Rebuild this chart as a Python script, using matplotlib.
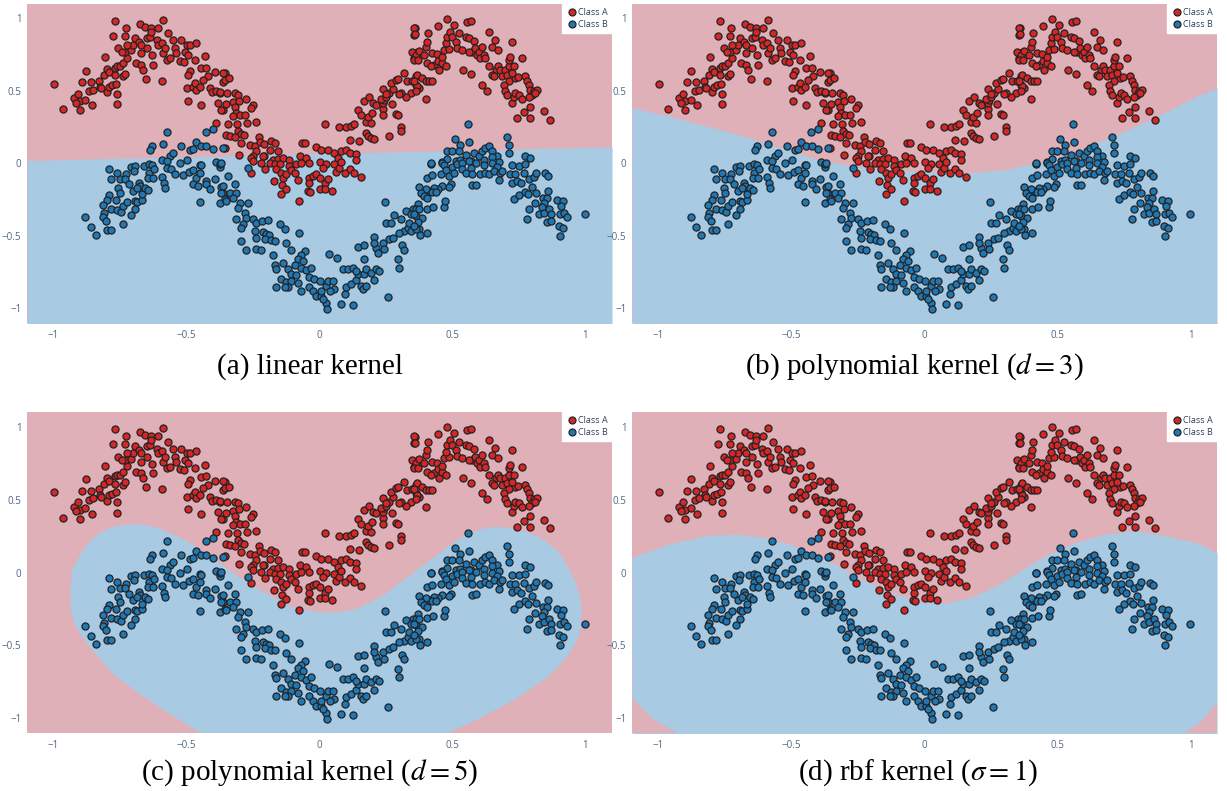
import numpy as np
import matplotlib.pyplot as plt
from matplotlib.lines import Line2D

plt.rcParams["mathtext.fontset"] = "stix"

# ── sample points (same data set in every panel) ─────────────────────────────
class_a = np.array([
    (-1.00, 0.55), (-0.965, 0.375), (-0.90, 0.37), (-0.856, 0.40), (-0.925, 0.45),
    (-0.91, 0.48), (-0.90, 0.43), (-0.88, 0.44), (-0.915, 0.42), (-0.894, 0.56),
    (-0.878, 0.64), (-0.86, 0.56), (-0.865, 0.50), (-0.85, 0.51), (-0.83, 0.57),
    (-0.825, 0.53), (-0.81, 0.61), (-0.82, 0.52), (-0.80, 0.49), (-0.79, 0.53),
    (-0.78, 0.54), (-0.80, 0.65), (-0.79, 0.63), (-0.77, 0.66), (-0.76, 0.67),
    (-0.75, 0.67), (-0.74, 0.69), (-0.77, 0.61), (-0.765, 0.55), (-0.76, 0.41),
    (-0.76, 0.48), (-0.74, 0.60), (-0.73, 0.62), (-0.725, 0.73), (-0.73, 0.77),
    (-0.756, 0.795), (-0.744, 0.77), (-0.71, 0.78), (-0.70, 0.82), (-0.694, 0.868),
    (-0.68, 0.84), (-0.67, 0.82), (-0.69, 0.69), (-0.67, 0.68), (-0.67, 0.76),
    (-0.665, 0.646), (-0.654, 0.584), (-0.625, 0.68), (-0.63, 0.745), (-0.65, 0.795),
    (-0.65, 0.864), (-0.637, 0.875), (-0.61, 0.85), (-0.606, 0.82), (-0.594, 0.83),
    (-0.588, 0.76), (-0.594, 0.57), (-0.575, 0.715), (-0.58, 0.795), (-0.563, 0.726),
    (-0.55, 0.85), (-0.544, 0.795), (-0.538, 0.76), (-0.525, 0.708), (-0.519, 0.85),
    (-0.51, 0.70), (-0.506, 0.77), (-0.50, 0.818), (-0.494, 0.75), (-0.488, 0.82),
    (-0.47, 0.715), (-0.463, 0.83), (-0.43, 0.74), (-0.444, 0.657), (-0.425, 0.66),
    (-0.42, 0.60), (-0.394, 0.63), (-0.356, 0.623), (-0.488, 0.635), (-0.494, 0.61),
    (-0.50, 0.52), (-0.475, 0.53), (-0.469, 0.554), (-0.463, 0.508), (-0.45, 0.53),
    (-0.438, 0.577), (-0.413, 0.52), (-0.406, 0.492), (-0.388, 0.50), (-0.375, 0.485),
    (-0.363, 0.565), (-0.494, 0.433), (-0.444, 0.40), (-0.38, 0.416), (-0.363, 0.37),
    (-0.388, 0.28), (-0.77, 0.983), (-0.675, 0.96), (-0.656, 0.944),
    (-0.635, 0.937), (-0.635, 0.91), (-0.606, 0.933), (-0.59, 0.99), (-0.569, 0.898),
    (-0.728, 0.937), (-0.778, 0.88), (-0.731, 0.88), (-0.725, 0.82), (-0.805, 0.733),
    # descending flank and trough
    (-0.363, 0.627), (-0.356, 0.577), (-0.34, 0.588), (-0.375, 0.492), (-0.348, 0.485),
    (-0.319, 0.485), (-0.306, 0.474), (-0.278, 0.446), (-0.325, 0.423), (-0.303, 0.432),
    (-0.35, 0.41), (-0.25, 0.40), (-0.256, 0.382), (-0.369, 0.37), (-0.319, 0.387),
    (-0.313, 0.348), (-0.325, 0.329), (-0.298, 0.336), (-0.281, 0.336), (-0.344, 0.272),
    (-0.31, 0.272), (-0.273, 0.279), (-0.238, 0.286), (-0.306, 0.226), (-0.294, 0.20),
    (-0.285, 0.194), (-0.353, 0.194), (-0.338, 0.192), (-0.319, 0.18), (-0.356, 0.11),
    (-0.294, 0.141), (-0.26, 0.125), (-0.244, 0.118), (-0.228, 0.18), (-0.225, 0.148),
    (-0.21, 0.134), (-0.181, 0.153), (-0.169, 0.141), (-0.156, 0.084), (-0.188, 0.095),
    (-0.238, 0.084), (-0.25, 0.05), (-0.303, 0.056), (-0.21, 0.05), (-0.065, 0.141),
    (-0.056, 0.141), (-0.013, 0.111), (0.006, 0.095), (0.031, 0.095),
    (-0.256, 0.038), (-0.213, 0.05), (-0.175, 0.027), (-0.156, 0.033), (-0.138, 0.038),
    (-0.113, 0.027), (-0.075, 0.05), (-0.05, 0.038), (-0.038, 0.004), (0.0, 0.01),
    (0.025, -0.003), (0.056, 0.072), (0.069, 0.038), (0.081, 0.084), (0.10, 0.095),
    (0.113, 0.072), (0.138, 0.066), (0.138, 0.027),
    (-0.25, 0.016), (-0.256, -0.069), (-0.219, 0.005), (-0.206, -0.037), (-0.188, 0.005),
    (-0.169, -0.007), (-0.15, -0.007), (-0.163, -0.041), (-0.144, -0.064), (-0.138, -0.099),
    (-0.125, -0.076), (-0.113, -0.018), (-0.106, -0.046), (-0.094, -0.064), (-0.081, -0.115),
    (-0.088, -0.007), (-0.069, 0.005), (-0.04, -0.099), (-0.038, -0.138), (-0.044, -0.19),
    (-0.035, -0.197), (-0.144, -0.213), (-0.173, -0.122), (-0.14, -0.151), (-0.125, -0.179),
    (-0.025, -0.087), (-0.013, -0.076), (0.0, -0.099), (0.0, -0.174), (0.013, -0.03),
    (0.019, -0.138), (0.031, -0.11), (0.048, -0.19), (0.056, -0.007), (0.063, -0.06),
    (0.075, -0.03), (0.081, 0.009), (0.094, -0.064), (0.115, -0.037), (0.131, -0.064),
    (0.156, -0.092), (-0.079, -0.259), (0.019, -0.174),
    # rising flank
    (0.019, 0.272), (0.075, 0.251), (0.10, 0.251), (0.119, 0.256), (0.131, 0.272),
    (0.144, 0.37), (0.156, 0.336), (0.169, 0.428), (0.175, 0.21), (0.15, 0.153),
    (0.181, 0.187), (0.194, 0.176), (0.206, 0.171), (0.116, 0.164), (0.175, 0.286),
    (0.194, 0.279), (0.181, 0.318), (0.198, 0.348), (0.185, 0.455), (0.203, 0.416),
    (0.213, 0.405), (0.238, 0.377), (0.238, 0.332), (0.24, 0.416), (0.244, 0.44),
    (0.231, 0.444), (0.25, 0.455), (0.263, 0.485), (0.275, 0.515), (0.238, 0.513),
    (0.25, 0.478), (0.273, 0.41), (0.288, 0.341), (0.296, 0.336), (0.306, 0.249),
    (0.306, 0.226), (0.263, 0.187), (0.269, 0.554), (0.288, 0.577), (0.294, 0.584),
    (0.319, 0.623), (0.328, 0.566), (0.348, 0.57), (0.363, 0.60), (0.363, 0.543),
    (0.344, 0.485), (0.325, 0.455), (0.306, 0.485), (0.298, 0.478), (0.356, 0.726),
    (0.36, 0.76), (0.356, 0.887), (0.36, 0.932), (0.369, 0.772), (0.373, 0.52),
    # right hump
    (0.355, 0.933), (0.359, 0.891), (0.349, 0.772), (0.362, 0.749), (0.355, 0.715),
    (0.374, 0.776), (0.372, 0.715), (0.368, 0.611), (0.368, 0.531), (0.355, 0.57),
    (0.362, 0.501), (0.387, 0.588), (0.399, 0.566), (0.412, 0.566), (0.424, 0.566),
    (0.405, 0.692), (0.399, 0.806), (0.405, 0.841), (0.409, 0.898), (0.393, 0.749),
    (0.422, 0.76), (0.443, 0.753), (0.43, 0.68), (0.418, 0.669), (0.447, 0.708),
    (0.449, 0.646), (0.459, 0.692), (0.474, 0.669), (0.462, 0.731), (0.468, 0.783),
    (0.487, 0.79), (0.474, 0.829), (0.48, 0.875), (0.489, 0.91), (0.447, 0.951),
    (0.48, 0.997), (0.505, 0.955), (0.499, 0.875), (0.512, 0.841), (0.518, 0.799),
    (0.524, 0.898), (0.534, 0.783), (0.549, 0.875), (0.555, 0.978), (0.568, 0.983),
    (0.562, 0.864), (0.58, 0.845), (0.574, 0.772), (0.584, 0.795), (0.593, 0.749),
    (0.599, 0.772), (0.605, 0.726), (0.612, 0.806), (0.618, 0.749), (0.624, 0.726),
    (0.637, 0.669), (0.639, 0.905), (0.649, 0.806), (0.659, 0.852), (0.662, 0.646),
    (0.649, 0.611), (0.655, 0.60), (0.672, 0.783), (0.672, 0.669), (0.68, 0.646),
    (0.687, 0.60), (0.699, 0.646), (0.705, 0.611), (0.712, 0.669), (0.714, 0.715),
    (0.718, 0.737), (0.724, 0.841), (0.73, 0.669), (0.734, 0.588), (0.747, 0.593),
    (0.722, 0.623), (0.712, 0.57), (0.693, 0.543), (0.612, 0.543), (0.63, 0.501),
    (0.699, 0.501), (0.705, 0.474), (0.724, 0.416), (0.73, 0.455), (0.737, 0.485),
    (0.749, 0.474), (0.762, 0.726), (0.774, 0.60), (0.78, 0.57), (0.787, 0.543),
    (0.793, 0.508), (0.805, 0.501), (0.818, 0.508), (0.799, 0.474), (0.812, 0.485),
    (0.787, 0.455), (0.762, 0.446), (0.768, 0.355), (0.793, 0.387), (0.843, 0.359),
    (0.743, 0.313), (0.793, 0.313), (0.868, 0.302), (0.399, 0.446), (0.539, 0.646),
    (0.568, 0.616), (0.562, 0.772),
])

class_b = np.array([
    # left hump
    (-0.575, 0.215), (-0.63, 0.118), (-0.638, 0.09), (-0.588, 0.134), (-0.519, 0.118),
    (-0.488, 0.095), (-0.475, 0.10), (-0.463, 0.146), (-0.444, 0.118), (-0.425, 0.118),
    (-0.40, 0.10), (-0.363, 0.107), (-0.428, 0.215), (-0.40, 0.237), (-0.594, 0.027),
    (-0.563, 0.05), (-0.55, 0.072), (-0.575, 0.015), (-0.5, 0.027), (-0.45, -0.008),
    (-0.79, -0.037), (-0.763, -0.064), (-0.785, -0.11), (-0.75, -0.105), (-0.728, -0.076),
    (-0.731, -0.105), (-0.71, -0.023), (-0.694, -0.018), (-0.698, -0.053), (-0.715, -0.144),
    (-0.756, -0.167), (-0.75, -0.202), (-0.79, -0.22), (-0.80, -0.25), (-0.815, -0.289),
    (-0.785, -0.312), (-0.765, -0.25), (-0.76, -0.321), (-0.748, -0.335), (-0.738, -0.294),
    (-0.725, -0.266), (-0.694, -0.259), (-0.688, -0.266), (-0.669, -0.252), (-0.669, -0.213),
    (-0.703, -0.19), (-0.68, -0.133), (-0.675, -0.156), (-0.656, -0.167), (-0.644, -0.184),
    (-0.688, -0.167), (-0.694, -0.317), (-0.71, -0.358), (-0.738, -0.42), (-0.81, -0.344),
    (-0.813, -0.367), (-0.803, -0.397), (-0.88, -0.367), (-0.86, -0.436), (-0.84, -0.49),
    (-0.798, -0.461), (-0.785, -0.461), (-0.66, -0.018), (-0.64, -0.007), (-0.63, -0.014),
    (-0.64, -0.064), (-0.644, -0.10), (-0.623, -0.041), (-0.625, -0.099), (-0.594, -0.092),
    (-0.585, -0.138), (-0.581, -0.167), (-0.575, -0.03), (-0.56, -0.037), (-0.544, -0.076),
    (-0.523, 0.0), (-0.513, -0.083), (-0.49, -0.06), (-0.475, -0.046), (-0.463, -0.099),
    (-0.475, -0.144), (-0.456, -0.156), (-0.45, -0.266), (-0.444, -0.014), (-0.425, -0.122),
    (-0.425, -0.144), (-0.41, -0.174), (-0.394, -0.11), (-0.388, 0.009), (-0.375, -0.023),
    (-0.369, -0.161), (-0.375, -0.27), (-0.363, -0.202), (-0.45, -0.064), (-0.375, -0.003),
    (-0.269, -0.03),
    # descending flank and trough
    (-0.369, 0.005), (-0.344, -0.087), (-0.363, -0.156), (-0.369, -0.202), (-0.356, -0.248),
    (-0.35, -0.259), (-0.338, -0.202), (-0.319, -0.144), (-0.313, -0.202), (-0.325, -0.236),
    (-0.30, -0.271), (-0.269, -0.271), (-0.306, -0.305), (-0.281, -0.339), (-0.275, -0.374),
    (-0.313, -0.385), (-0.288, -0.42), (-0.294, -0.443), (-0.25, -0.385), (-0.238, -0.408),
    (-0.215, -0.397), (-0.194, -0.39), (-0.15, -0.42), (-0.131, -0.45), (-0.244, -0.466),
    (-0.238, -0.511), (-0.213, -0.473), (-0.20, -0.489), (-0.19, -0.495), (-0.206, -0.518),
    (-0.181, -0.528), (-0.169, -0.534), (-0.294, -0.534), (-0.275, -0.596), (-0.238, -0.587),
    (-0.219, -0.596), (-0.175, -0.633), (-0.125, -0.55), (-0.106, -0.596), (-0.078, -0.482),
    (-0.053, -0.603), (-0.069, -0.633), (-0.081, -0.656), (-0.063, -0.672), (-0.094, -0.702),
    (-0.138, -0.688), (-0.169, -0.702), (-0.163, -0.725), (-0.119, -0.729), (-0.106, -0.764),
    (-0.088, -0.771), (-0.069, -0.718), (-0.05, -0.734), (-0.031, -0.718), (-0.144, -0.794),
    (-0.125, -0.817), (-0.106, -0.81), (-0.081, -0.826), (-0.119, -0.849), (-0.131, -0.849),
    (-0.163, -0.849), (-0.069, -0.878), (-0.038, -0.78), (-0.019, -0.794), (0.0, -0.81),
    (-0.038, -0.849), (-0.025, -0.878), (-0.013, -0.913), (0.006, -0.917), (0.025, -0.844),
    (0.031, -0.81), (0.05, -0.81), (0.056, -0.867), (0.038, -0.878), (0.006, -0.878),
    (0.025, -0.963), (0.028, -1.005), (0.013, -0.936), (0.081, -0.97), (0.125, -0.977),
    (0.094, -0.901), (0.10, -0.855), (0.119, -0.833), (0.138, -0.803), (0.156, -0.844),
    (0.163, -0.867), (0.175, -0.844), (0.144, -0.764), (0.169, -0.764), (0.175, -0.729),
    (0.194, -0.752), (0.213, -0.729), (0.225, -0.741), (0.206, -0.803), (0.035, -0.626),
    (0.065, -0.649), (0.088, -0.729), (0.106, -0.729), (0.125, -0.718), (0.138, -0.741),
    (0.169, -0.656), (0.256, -0.924),
    # rising flank
    (0.144, -0.573), (0.169, -0.564), (0.206, -0.505), (0.213, -0.58), (0.219, -0.615),
    (0.24, -0.546), (0.244, -0.592), (0.263, -0.523), (0.275, -0.511), (0.294, -0.66),
    (0.298, -0.718), (0.31, -0.564), (0.319, -0.596), (0.206, -0.546), (0.25, -0.408),
    (0.269, -0.408), (0.281, -0.358), (0.306, -0.385), (0.319, -0.466), (0.30, -0.477),
    (0.331, -0.443), (0.344, -0.466), (0.338, -0.408), (0.35, -0.317), (0.325, -0.328),
    (0.344, -0.351), (0.363, -0.362), (0.373, -0.454), (0.248, -0.264),
    # right hump
    (0.559, 0.272), (0.509, 0.169), (0.53, 0.13), (0.562, 0.148), (0.48, 0.088),
    (0.499, 0.088), (0.524, 0.084), (0.549, 0.061), (0.58, 0.072), (0.599, 0.05),
    (0.612, 0.084), (0.624, 0.107), (0.637, 0.118), (0.649, 0.084), (0.668, 0.05),
    (0.705, 0.18), (0.714, 0.13), (0.712, 0.072), (0.774, 0.05), (0.793, 0.038),
    (0.418, -0.003), (0.462, 0.01), (0.48, 0.033), (0.512, 0.015), (0.53, 0.027),
    (0.568, 0.015), (0.618, 0.027), (0.649, 0.043), (0.674, 0.01),
    (0.418, 0.0), (0.462, 0.005), (0.468, -0.014), (0.499, -0.023), (0.518, -0.007),
    (0.537, 0.005), (0.562, 0.016), (0.587, 0.005), (0.618, -0.014), (0.649, 0.0),
    (0.668, -0.023), (0.724, -0.014), (0.749, -0.018), (0.772, -0.007), (0.455, -0.076),
    (0.474, -0.046), (0.487, -0.087), (0.505, -0.064), (0.537, -0.037), (0.549, -0.069),
    (0.568, -0.03), (0.574, -0.076), (0.605, -0.076), (0.624, -0.064), (0.637, -0.076),
    (0.655, -0.053), (0.68, -0.064), (0.687, -0.053), (0.718, -0.076), (0.737, -0.076),
    (0.768, -0.069), (0.674, -0.115), (0.724, -0.133), (0.743, -0.122), (0.759, -0.138),
    (0.787, -0.105), (0.805, -0.092), (0.814, -0.064), (0.847, -0.069), (0.859, -0.087),
    (0.405, -0.099), (0.424, -0.083), (0.493, -0.144), (0.487, -0.161), (0.459, -0.156),
    (0.447, -0.174), (0.43, -0.167), (0.412, -0.19), (0.399, -0.174), (0.374, -0.161),
    (0.381, -0.202), (0.393, -0.225), (0.405, -0.236), (0.424, -0.197), (0.439, -0.197),
    (0.372, -0.282), (0.364, -0.317), (0.355, -0.351), (0.374, -0.317), (0.405, -0.312),
    (0.427, -0.298), (0.468, -0.298), (0.472, -0.259), (0.384, -0.374), (0.372, -0.404),
    (0.364, -0.454), (0.355, -0.431), (0.377, -0.495), (0.405, -0.477), (0.574, -0.151),
    (0.59, -0.147), (0.73, -0.248), (0.749, -0.216), (0.774, -0.197), (0.784, -0.213),
    (0.799, -0.161), (0.814, -0.206), (0.839, -0.236), (0.855, -0.236), (0.859, -0.19),
    (0.843, -0.271), (0.837, -0.298), (0.809, -0.275), (0.787, -0.317), (0.78, -0.385),
    (0.824, -0.351), (0.843, -0.339), (0.862, -0.317), (0.872, -0.351), (0.855, -0.404),
    (0.872, -0.397), (0.893, -0.252), (0.914, -0.259), (0.909, -0.294), (0.905, -0.351),
    (0.918, -0.339), (0.93, -0.367), (0.899, -0.431), (0.914, -0.443), (0.905, -0.50),
    (0.999, -0.351),
])

# ── decision boundaries ─────────────────────────────────────────────────────
linear_x = [-1.1, 1.1]
linear_y = [0.02, 0.115]

poly3_x = [-1.1, -0.96, -0.82, -0.68, -0.54, -0.40, -0.25, -0.11, 0.03, 0.17,
           0.31, 0.45, 0.60, 0.74, 0.88, 1.02, 1.1]
poly3_y = [0.385, 0.325, 0.257, 0.188, 0.108, 0.027, -0.025, -0.048, -0.064, -0.064,
           -0.041, 0.016, 0.108, 0.211, 0.33, 0.46, 0.52]

# closed outline of the d=5 region (runs off the bottom edge)
poly5_x = [-0.937, -0.93, -0.895, -0.86, -0.824, -0.77, -0.71, -0.66, -0.611, -0.512,
           -0.427, -0.328, -0.229, -0.116, -0.04, 0.026, 0.085, 0.139, 0.238, 0.337,
           0.422, 0.522, 0.58, 0.635, 0.69, 0.734, 0.80, 0.847, 0.90, 0.932,
           0.962, 0.982, 0.985, 0.982, 0.962, 0.932, 0.89, 0.847, 0.734, 0.593,
           0.479, 0.40, -0.40, -0.441, -0.47, -0.569, -0.682, -0.781, -0.866, -0.900,
           -0.923, -0.936]
poly5_y = [-0.137, 0.02, 0.137, 0.22, 0.275, 0.318, 0.332, 0.326, 0.309, 0.229,
           0.137, 0.0, -0.115, -0.229, -0.262, -0.275, -0.27, -0.252, -0.16, -0.023,
           0.092, 0.229, 0.28, 0.309, 0.311, 0.298, 0.265, 0.218, 0.14, 0.046,
           -0.06, -0.183, -0.29, -0.39, -0.49, -0.573, -0.66, -0.733, -0.871, -1.008,
           -1.104, -1.25, -1.25, -1.104, -1.076, -0.962, -0.825, -0.687, -0.504, -0.42,
           -0.344, -0.24]

rbf_x = [-1.1, -0.962, -0.82, -0.707, -0.608, -0.508, -0.424, -0.325, -0.225, -0.112,
         0.001, 0.072, 0.171, 0.27, 0.37, 0.454, 0.568, 0.681, 0.794, 0.907, 1.021, 1.1]
rbf_y = [0.103, 0.195, 0.252, 0.263, 0.241, 0.195, 0.137, 0.046, -0.057, -0.149,
         -0.206, -0.211, -0.172, -0.092, 0.023, 0.115, 0.206, 0.263, 0.286, 0.252,
         0.206, 0.137]
rbf_left_x = [-1.1, -1.1, -1.018, -0.919, -0.90]
rbf_left_y = [-1.2, -0.859, -1.008, -1.111, -1.2]
rbf_right_x = [1.1, 1.1, 1.035, 0.964, 0.95]
rbf_right_y = [-1.2, -0.893, -1.031, -1.111, -1.2]

RED_BG = "#e0b0b9"
BLUE_BG = "#a9cae3"
RED_PT = "#d62728"
BLUE_PT = "#1f77b4"
TICK_COLOR = "#506784"

captions = [
    "(a) linear kernel",
    "(b) polynomial kernel ($d=3$)",
    "(c) polynomial kernel ($d=5$)",
    r"(d) rbf kernel ($\sigma=1$)",
]
rects = [
    [0.0220, 0.5917, 0.4768, 0.4033],
    [0.5151, 0.5917, 0.4768, 0.4033],
    [0.0220, 0.0733, 0.4768, 0.4058],
    [0.5151, 0.0733, 0.4768, 0.4058],
]
caption_pos = [(0.2526, 0.537), (0.745, 0.537), (0.2526, 0.0235), (0.748, 0.0235)]

fig = plt.figure(figsize=(12.27, 7.91), dpi=100)

for k, (rect, cap, cpos) in enumerate(zip(rects, captions, caption_pos)):
    ax = fig.add_axes(rect)
    ax.set_facecolor(RED_BG)
    if k == 0:
        ax.fill_between(linear_x, -1.2, linear_y, color=BLUE_BG, lw=0)
    elif k == 1:
        ax.fill_between(poly3_x, -1.2, poly3_y, color=BLUE_BG, lw=0)
    elif k == 2:
        ax.fill(poly5_x, poly5_y, color=BLUE_BG, lw=0)
    else:
        ax.fill_between(rbf_x, -1.2, rbf_y, color=BLUE_BG, lw=0)
        ax.fill(rbf_left_x, rbf_left_y, color=RED_BG, lw=0)
        ax.fill(rbf_right_x, rbf_right_y, color=RED_BG, lw=0)

    ax.scatter(class_a[:, 0], class_a[:, 1], s=26, c=RED_PT,
               edgecolors="#222222", linewidths=0.9, zorder=3)
    ax.scatter(class_b[:, 0], class_b[:, 1], s=26, c=BLUE_PT,
               edgecolors="#222222", linewidths=0.9, zorder=3)

    ax.set_xlim(-1.1, 1.1)
    ax.set_ylim(-1.1, 1.1)
    ax.set_xticks([-1, -0.5, 0, 0.5, 1])
    ax.set_xticklabels(["\u22121", "\u22120.5", "0", "0.5", "1"])
    ax.set_yticks([-1, -0.5, 0, 0.5, 1])
    ax.set_yticklabels(["\u22121", "\u22120.5", "0", "0.5", "1"])
    ax.tick_params(length=0, labelsize=7, colors=TICK_COLOR, pad=5)
    ax.tick_params(axis="y", pad=4)
    for lbl in ax.get_xticklabels() + ax.get_yticklabels():
        lbl.set_family("Open Sans")
    for s in ax.spines.values():
        s.set_visible(False)

    handles = [
        Line2D([], [], ls="", marker="o", ms=5, mfc=RED_PT, mec="#222222", mew=0.9),
        Line2D([], [], ls="", marker="o", ms=5, mfc=BLUE_PT, mec="#222222", mew=0.9),
    ]
    leg = ax.legend(handles, ["Class A", "Class B"], loc="upper right",
                    borderaxespad=0, frameon=True, fancybox=False,
                    prop={"family": "Open Sans", "size": 6.5},
                    handletextpad=0.1, handlelength=1.2, labelspacing=0.35,
                    borderpad=0.45)
    leg.get_frame().set_facecolor("white")
    leg.get_frame().set_edgecolor("white")
    leg.get_frame().set_alpha(1)
    leg.set_zorder(5)
    for t in leg.get_texts():
        t.set_color("#2a3f5f")

    fig.text(cpos[0], cpos[1], cap, ha="center", va="center",
             fontsize=21, family="Liberation Serif")

fig.savefig("out.png", dpi=100)
